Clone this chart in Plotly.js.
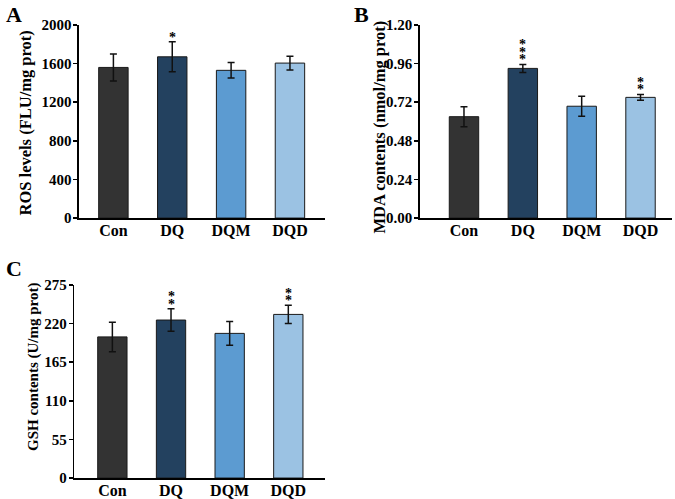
<!DOCTYPE html>
<html>
<head>
<meta charset="utf-8">
<script src="https://cdn.plot.ly/plotly-3.0.1.min.js"></script>
<style>body{margin:0;background:#fff}</style>
</head>
<body>
<div id="plot" style="width:675px;height:499px"></div>
<script>
// groups and bar colours
let groups = ["Con", "DQ", "DQM", "DQD"];
let barColors = ["#333333", "#23415f", "#5c9bd1", "#9bc2e3"];

// panel A: ROS levels
let rosMean = [1560, 1670, 1530, 1605];
let rosErr = [140, 155, 80, 72];
let rosStars = [0, 1, 0, 0];

// panel B: MDA contents
let mdaMean = [0.63, 0.93, 0.695, 0.75];
let mdaErr = [0.062, 0.025, 0.062, 0.018];
let mdaStars = [0, 3, 0, 2];

// panel C: GSH contents
let gshMean = [201, 225, 206, 233];
let gshErr = [21, 16, 17, 13];
let gshStars = [0, 2, 0, 2];

let font = "Liberation Serif, Times New Roman, serif";

// one bar trace per panel
function barTrace(means, errs, xa, ya) {
    return {
        x: groups,
        y: means,
        type: "bar",
        width: 0.5,
        xaxis: xa,
        yaxis: ya,
        marker: {color: barColors, line: {color: "#1a1a1a", width: 1}},
        error_y: {type: "data", array: errs, visible: true, color: "#111", thickness: 1.5, width: 3.5},
        showlegend: false,
        hoverinfo: "skip"
    };
}

let data = [
    barTrace(rosMean, rosErr, "x", "y"),
    barTrace(mdaMean, mdaErr, "x2", "y2"),
    barTrace(gshMean, gshErr, "x3", "y3")
];

// stars above the error bars
let annotations = [];
function addStars(means, errs, stars, xa, ya) {
    for (let i = 0; i < groups.length; i++) {
        for (let k = 0; k < stars[i]; k++) {
            annotations.push({
                x: groups[i], y: means[i] + errs[i], xref: xa, yref: ya,
                text: "<b>*</b>", showarrow: false, yanchor: "bottom",
                yshift: -5 + k * 7.5,
                font: {family: font, size: 14, color: "#000"}
            });
        }
    }
}
addStars(rosMean, rosErr, rosStars, "x", "y");
addStars(mdaMean, mdaErr, mdaStars, "x2", "y2");
addStars(gshMean, gshErr, gshStars, "x3", "y3");

// panel letters
let letters = [["A", 0.006, 1.0], ["B", 0.522, 1.0], ["C", 0.006, 0.49]];
letters.forEach(function (l) {
    annotations.push({
        x: l[1], y: l[2], xref: "paper", yref: "paper", text: "<b>" + l[0] + "</b>",
        showarrow: false, xanchor: "left", yanchor: "top",
        font: {family: font, size: 22, color: "#000"}
    });
});

// y axis titles, placed beside each panel
let yTitles = [
    ["ROS levels (FLU/mg prot)", 26, 0.7525, 16.5],
    ["MDA contents (nmol/mg prot)", 379, 0.7445, 16.5],
    ["GSH contents (U/mg prot)", 33, 0.2645, 15]
];
yTitles.forEach(function (t) {
    annotations.push({
        x: t[1] / 675, y: t[2], xref: "paper", yref: "paper", text: "<b>" + t[0] + "</b>",
        textangle: -90, showarrow: false, xanchor: "center", yanchor: "middle",
        font: {family: font, size: t[3], color: "#000"}
    });
});

function xAxis(domain, range, anchor) {
    return {
        domain: domain, range: range, anchor: anchor,
        showline: true, linecolor: "#000", linewidth: 1.5,
        ticks: "", ticklabelstandoff: -3,
        showgrid: false, zeroline: false, fixedrange: true,
        tickfont: {family: font, size: 16, color: "#000", weight: "bold"}
    };
}

function yAxis(domain, range, dtick, anchor, fmt) {
    return {
        domain: domain, range: range, dtick: dtick, tick0: 0, anchor: anchor,
        tickformat: fmt,
        showline: true, linecolor: "#000", linewidth: 1.5,
        ticks: "outside", ticklen: 4, tickwidth: 1.5, tickcolor: "#000",
        ticklabelstandoff: -1,
        showgrid: false, zeroline: false, fixedrange: true,
        tickfont: {family: font, size: 15, color: "#000", weight: "bold"}
    };
}

let layout = {
    width: 675,
    height: 499,
    margin: {l: 0, r: 0, t: 0, b: 0},
    paper_bgcolor: "#fff",
    plot_bgcolor: "#fff",
    xaxis: xAxis([0.117, 0.481], [-0.585, 3.59], "y"),
    yaxis: yAxis([0.563, 0.950], [0, 2000], 400, "x", "d"),
    xaxis2: xAxis([0.622, 0.996], [-0.75, 3.54], "y2"),
    yaxis2: yAxis([0.563, 0.950], [0, 1.2], 0.24, "x2", ".2f"),
    xaxis3: xAxis([0.110, 0.481], [-0.65, 3.62], "y3"),
    yaxis3: yAxis([0.042, 0.429], [0, 275], 55, "x3", "d"),
    annotations: annotations
};

Plotly.newPlot("plot", data, layout, {displayModeBar: false, staticPlot: true});
</script>
</body>
</html>
